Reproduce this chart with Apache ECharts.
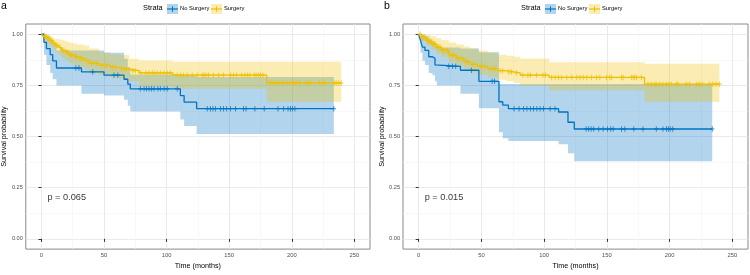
<!DOCTYPE html>
<html>
<head>
<meta charset="utf-8">
<script src="https://cdn.jsdelivr.net/npm/echarts@6/dist/echarts.min.js"></script>
<style>
  html, body { margin: 0; padding: 0; background: #fff; }
  #chart { width: 750px; height: 275px; }
</style>
</head>
<body>
<div id="chart"></div>
<script>
// axis ticks
const xTicks = [0, 50, 100, 150, 200, 250]
const xMinor = [25, 75, 125, 175, 225]
const yTicks = [0, 0.25, 0.5, 0.75, 1]
const yMinor = [0.125, 0.375, 0.625, 0.875]
const strata = ['No Surgery', 'Surgery']
const panelLabels = ['a', 'b']
const pTexts = ['p = 0.065', 'p = 0.015']
const pCoord = [4.8, 0.2]

// panel a, No Surgery
const aNoTime = [0, 2, 4, 7, 9, 12, 32, 50, 66, 69, 71, 111, 114, 124, 233.6]
const aNoSurv = [1, 0.96, 0.93, 0.9, 0.87, 0.835, 0.816, 0.8, 0.78, 0.756, 0.733, 0.7, 0.668, 0.636, 0.636]
const aNoUpper = [1, 1, 0.99, 0.975, 0.955, 0.921, 0.921, 0.909, 0.88, 0.84, 0.803, 0.803, 0.797, 0.791, 0.791]
const aNoLower = [1, 0.9, 0.85, 0.81, 0.78, 0.749, 0.709, 0.7, 0.68, 0.65, 0.623, 0.583, 0.552, 0.513, 0.513]
const aNoCens = [27.5, 30, 41, 58, 61, 79, 82, 84, 86, 88, 90, 93, 95, 98, 100.5, 108.5, 132.5, 135, 137, 139,
  143, 145.5, 148, 151, 155, 161.5, 163.5, 170.5, 178, 189, 193.5, 197, 199, 200.5, 202.5, 233.6]

// panel a, Surgery
const aSuTime = [0, 1.5, 4, 6.5, 9, 11, 14, 16, 19, 22, 26, 29, 34, 38, 46, 55, 62, 70, 78, 105, 180, 239.5]
const aSuSurv = [1, 0.99, 0.98, 0.968, 0.957, 0.945, 0.935, 0.921, 0.912, 0.898, 0.89, 0.882, 0.872, 0.858, 0.848,
  0.838, 0.83, 0.822, 0.811, 0.8, 0.762, 0.762]
const aSuUpper = [1, 1, 1, 0.99, 0.982, 0.976, 0.975, 0.97, 0.965, 0.958, 0.955, 0.95, 0.945, 0.93, 0.912,
  0.902, 0.898, 0.88, 0.872, 0.866, 0.866, 0.866]
const aSuLower = [1, 0.97, 0.955, 0.94, 0.925, 0.91, 0.9, 0.885, 0.872, 0.858, 0.848, 0.838, 0.826, 0.81, 0.8,
  0.79, 0.78, 0.77, 0.745, 0.733, 0.67, 0.67]
const aSuCens = [2.5, 3.5, 5, 6, 7.5, 8.5, 10, 12, 13, 15, 17, 18, 20, 21, 23, 24, 27, 28, 31, 32, 35, 36.5, 40,
  42, 44, 48, 50, 52, 57, 59, 64, 66, 68, 73, 75, 79.5, 83.5, 86, 88.5, 90, 92.5, 95, 98, 100.5, 103, 108.5,
  111, 113.5, 116.5, 120.5, 124.5, 128.5, 130, 131.5, 133.5, 137.5, 141.5, 145.5, 151, 153.5, 156, 160, 162.5,
  164.5, 166.5, 170, 171.5, 173.5, 175, 177, 182.5, 184.5, 186.5, 188.5, 190.5, 193, 196, 198.5, 201, 202.5,
  204, 206.5, 211.5, 213.5, 215.5, 222, 224.5, 226, 234, 235.5, 237.5, 239.5]

// panel b, No Surgery
const bNoTime = [0, 1.5, 3, 5, 8, 11, 13, 14.5, 33.3, 48, 64, 67, 71.5, 111.5, 119, 124, 234]
const bNoSurv = [1, 0.968, 0.937, 0.921, 0.89, 0.882, 0.85, 0.843, 0.824, 0.77, 0.67, 0.654, 0.636, 0.62, 0.57, 0.537, 0.537]
const bNoUpper = [1, 1, 0.995, 0.99, 0.975, 0.965, 0.945, 0.935, 0.93, 0.912, 0.757, 0.757, 0.757, 0.757, 0.757, 0.757, 0.757]
const bNoLower = [1, 0.91, 0.87, 0.85, 0.81, 0.8, 0.77, 0.749, 0.709, 0.638, 0.521, 0.492, 0.478, 0.462, 0.418, 0.379, 0.379]
const bNoCens = [24, 27, 29.5, 42, 58.5, 60.5, 76, 80, 83.6, 86.3, 89, 91.5, 94.2, 96.8, 99.5, 104.8, 108.7,
  133.5, 135.5, 137.5, 139.5, 143.5, 147, 150.5, 153, 155, 161.7, 164.3, 171.5, 178.8, 189.4, 194.7, 197.5,
  199, 200.5, 202.5, 234]

// panel b, Surgery
const bSuTime = [0, 2, 6, 10, 14, 18, 24, 30, 36, 41, 47, 55, 63, 70, 76, 81, 104, 180, 239.7]
const bSuSurv = [1, 0.984, 0.968, 0.953, 0.937, 0.921, 0.898, 0.882, 0.866, 0.853, 0.843, 0.832, 0.822, 0.816,
  0.811, 0.8, 0.789, 0.756, 0.756]
const bSuUpper = [1, 1, 0.995, 0.99, 0.98, 0.97, 0.96, 0.95, 0.94, 0.93, 0.92, 0.91, 0.9, 0.895, 0.89, 0.882,
  0.863, 0.856, 0.856]
const bSuLower = [1, 0.965, 0.945, 0.925, 0.905, 0.888, 0.862, 0.845, 0.828, 0.813, 0.802, 0.79, 0.778, 0.77,
  0.762, 0.75, 0.725, 0.67, 0.67]
const bSuCens = [1, 3, 4, 5, 7, 8, 9, 11, 12, 13, 15, 16, 17, 19, 20, 22, 23, 25, 27, 28, 31, 33, 35, 38, 39, 43,
  45, 49, 51, 53, 57, 59, 61, 65, 67, 72, 74, 78, 83, 87, 89, 94, 99, 101, 106, 108.7, 111.4, 114, 118, 122,
  126, 128.6, 131.2, 133.9, 137.8, 141.8, 144.4, 149.7, 152.4, 153.7, 161.7, 163, 169.6, 171, 172.2, 173.6,
  177.5, 182.8, 185.5, 188.1, 189.4, 192.1, 194.7, 197.4, 199.4, 201.3, 205.3, 206.6, 213.2, 215.9, 221.7,
  223.8, 226, 231.7, 234.4, 237, 239.7]

const colors = ['#0073C2', '#EFC000']
const fills = ['rgba(0,115,194,0.3)', 'rgba(239,192,0,0.3)']
const FONT = '"Liberation Sans", Arial, sans-serif'
const plus = 'path://M5,0L5,10M0,5L10,5'

// step value at time t
function survAt(times, surv, t) {
  let s = surv[0]
  for (let i = 0; i < times.length; i++) {
    if (times[i] <= t) s = surv[i]
  }
  return s
}

// confidence band as one step-shaped polygon, built with api.coord
function bandSeries(g, times, lower, upper, fill) {
  const rows = times.map((t, i) => [t, lower[i], upper[i]])
  return {
    type: 'custom', xAxisIndex: g, yAxisIndex: g, silent: true, z: 2,
    encode: { x: 0, y: [1, 2] },
    data: rows,
    renderItem: function (params, api) {
      if (params.dataIndex !== 0) return null
      const top = []
      const bottom = []
      rows.forEach((r, i) => {
        const tNext = i < rows.length - 1 ? rows[i + 1][0] : r[0]
        top.push(api.coord([r[0], r[2]]), api.coord([tNext, r[2]]))
        bottom.push(api.coord([r[0], r[1]]), api.coord([tNext, r[1]]))
      })
      return {
        type: 'polygon',
        shape: { points: top.concat(bottom.reverse()) },
        style: { fill: fill },
      }
    },
  }
}

function curveSeries(g, times, surv, color) {
  return {
    type: 'line', xAxisIndex: g, yAxisIndex: g, step: 'end', symbol: 'none', silent: true,
    data: times.map((t, i) => [t, surv[i]]),
    lineStyle: { color: color, width: 1.3 }, z: 5,
  }
}

function censorSeries(g, cens, times, surv, color) {
  return {
    type: 'scatter', xAxisIndex: g, yAxisIndex: g, symbol: plus, symbolSize: [4.5, 5.5], silent: true,
    data: cens.map((t) => [t, survAt(times, surv, t)]),
    itemStyle: { color: 'rgba(0,0,0,0)', borderColor: color, borderWidth: 1 }, z: 6,
  }
}

function pSeries(g) {
  return {
    type: 'scatter', xAxisIndex: g, yAxisIndex: g, symbolSize: 0, silent: true,
    data: [pCoord],
    label: {
      show: true, position: 'right', distance: 0, formatter: pTexts[g],
      fontFamily: FONT, fontSize: 9.2, color: '#000',
    },
  }
}

const grids = [
  { left: 25, top: 24, width: 345, height: 233 },
  { left: 403, top: 24, width: 345, height: 233 },
].map((g) => Object.assign(g, { show: true, borderColor: '#8a8a8a', borderWidth: 1, backgroundColor: '#fff' }))

function majorX(g) {
  return {
    type: 'value', gridIndex: g, min: -12.5, max: 262.5,
    axisLine: { show: false },
    axisTick: { show: true, customValues: xTicks, length: 3, lineStyle: { color: '#333' } },
    axisLabel: { customValues: xTicks, fontFamily: FONT, fontSize: 5.8, color: '#4d4d4d', margin: 3 },
    splitLine: { show: true, lineStyle: { color: '#e8e8e8', width: 0.9 } },
    name: 'Time (months)', nameLocation: 'middle', nameGap: 13,
    nameTextStyle: { fontFamily: FONT, fontSize: 7.2, color: '#000' },
  }
}
function minorX(g) {
  return {
    type: 'value', gridIndex: g, min: -12.5, max: 262.5,
    axisLine: { show: false },
    axisTick: { show: false, customValues: xMinor },
    axisLabel: { show: false },
    splitLine: { show: true, lineStyle: { color: '#f4f4f4', width: 0.6 } },
  }
}
function majorY(g) {
  return {
    type: 'value', gridIndex: g, min: -0.05, max: 1.05,
    axisLine: { show: false },
    axisTick: { show: true, customValues: yTicks, length: 3, lineStyle: { color: '#333' } },
    axisLabel: {
      customValues: yTicks, fontFamily: FONT, fontSize: 5.6, color: '#4d4d4d', margin: 3,
      formatter: (v) => v.toFixed(2),
    },
    splitLine: { show: true, lineStyle: { color: '#e8e8e8', width: 0.9 } },
    name: 'Survival probability', nameLocation: 'middle', nameGap: 16,
    nameTextStyle: { fontFamily: FONT, fontSize: 7.2, color: '#000' },
  }
}
function minorY(g) {
  return {
    type: 'value', gridIndex: g, min: -0.05, max: 1.05,
    axisLine: { show: false },
    axisTick: { show: false, customValues: yMinor },
    axisLabel: { show: false },
    splitLine: { show: true, lineStyle: { color: '#f4f4f4', width: 0.6 } },
  }
}

// legend drawn as graphic: "Strata" + two keys
function legendGraphic(x0) {
  const els = [{
    type: 'text', left: x0, top: 4.5,
    style: { text: 'Strata', fontFamily: FONT, fontSize: 7.4, fill: '#000' },
  }]
  const keyX = [x0 + 24, x0 + 68]
  const labX = [x0 + 37, x0 + 81]
  strata.forEach((name, i) => {
    els.push({ type: 'rect', shape: { x: keyX[i], y: 4, width: 11, height: 10 }, style: { fill: fills[i] } })
    els.push({ type: 'line', shape: { x1: keyX[i], y1: 9, x2: keyX[i] + 11, y2: 9 }, style: { stroke: colors[i], lineWidth: 1.2 } })
    els.push({ type: 'line', shape: { x1: keyX[i] + 5.5, y1: 6.3, x2: keyX[i] + 5.5, y2: 11.7 }, style: { stroke: colors[i], lineWidth: 1 } })
    els.push({ type: 'text', left: labX[i], top: 5.5, style: { text: name, fontFamily: FONT, fontSize: 5.8, fill: '#000' } })
  })
  return els
}

const chart = echarts.init(document.getElementById('chart'), null, { renderer: 'canvas' })

const series = [].concat(
  [bandSeries(0, aNoTime, aNoLower, aNoUpper, fills[0]), bandSeries(0, aSuTime, aSuLower, aSuUpper, fills[1])],
  [curveSeries(0, aNoTime, aNoSurv, colors[0]), curveSeries(0, aSuTime, aSuSurv, colors[1])],
  [censorSeries(0, aNoCens, aNoTime, aNoSurv, colors[0]), censorSeries(0, aSuCens, aSuTime, aSuSurv, colors[1])],
  [pSeries(0)],
  [bandSeries(1, bNoTime, bNoLower, bNoUpper, fills[0]), bandSeries(1, bSuTime, bSuLower, bSuUpper, fills[1])],
  [curveSeries(1, bNoTime, bNoSurv, colors[0]), curveSeries(1, bSuTime, bSuSurv, colors[1])],
  [censorSeries(1, bNoCens, bNoTime, bNoSurv, colors[0]), censorSeries(1, bSuCens, bSuTime, bSuSurv, colors[1])],
  [pSeries(1)]
)

chart.setOption({
  animation: false,
  backgroundColor: '#fff',
  grid: grids,
  xAxis: [majorX(0), majorX(1), minorX(0), minorX(1)],
  yAxis: [majorY(0), majorY(1), minorY(0), minorY(1)],
  graphic: [].concat(
    legendGraphic(143),
    legendGraphic(521),
    [
      { type: 'text', left: 1, top: 1, style: { text: panelLabels[0], fontFamily: FONT, fontSize: 10.5, fill: '#000' } },
      { type: 'text', left: 384, top: 1, style: { text: panelLabels[1], fontFamily: FONT, fontSize: 10.5, fill: '#000' } },
    ]
  ),
  series: series,
})
</script>
</body>
</html>
